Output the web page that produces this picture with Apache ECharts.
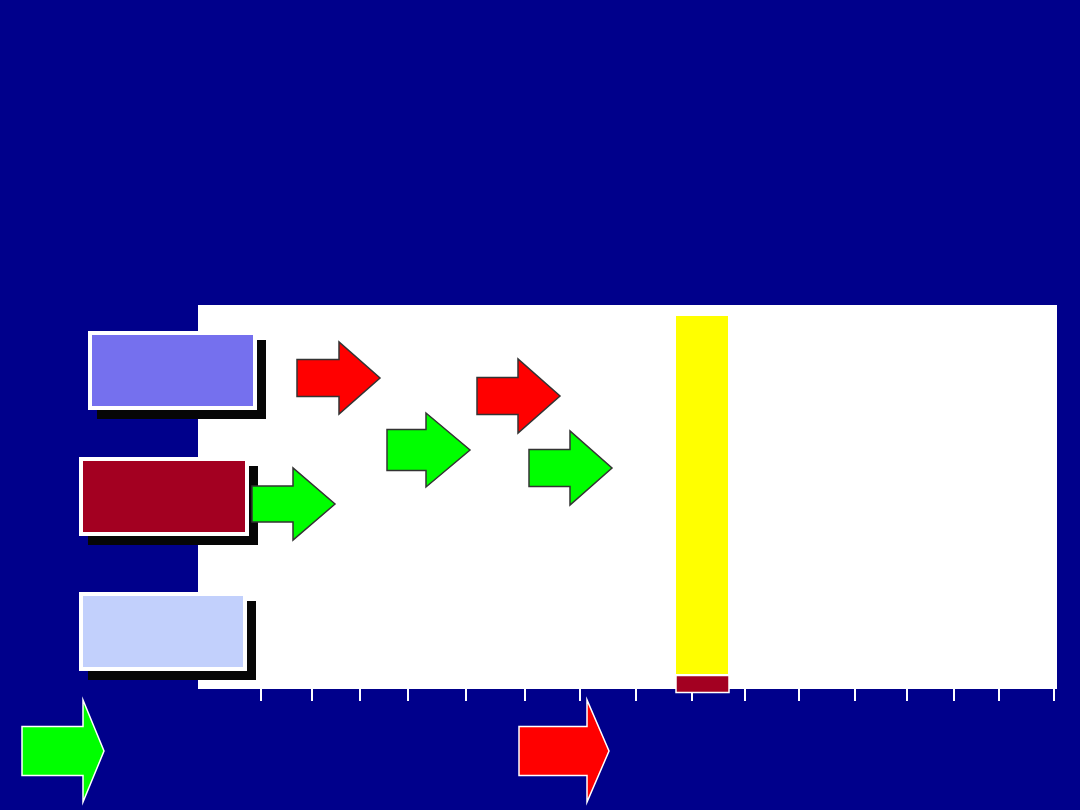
<!DOCTYPE html>
<html>
<head>
<meta charset="utf-8">
<script src="https://cdn.jsdelivr.net/npm/echarts@6/dist/echarts.min.js"></script>
<style>html,body{margin:0;padding:0;background:#00008b;}#c{width:1080px;height:810px;}</style>
</head>
<body>
<div id="c"></div>
<script>
// ---- data (in chart units: x from plot left, y from plot bottom) ----
const tickValues = [63, 114, 162, 210, 268, 327, 382, 438, 494, 547, 601, 657, 709, 756, 801, 856];

const boxLeft   = [-110, -119, -119];
const boxRight  = [59, 51, 49];
const boxTop    = [358, 232, 97];
const boxBottom = [279, 153, 18];
const boxColors = ['#7570ee', '#a30021', '#c2d0fc'];

const barLeft   = [478, 478];
const barRight  = [530, 531];
const barTop    = [373, 13.5];
const barBottom = [15, -3.5];
const barColors = ['#ffff00', '#a30021'];

const arrowTail  = [99, 279, 54, 189, 331, -176, 321];
const arrowHead  = [141, 320, 95, 228, 372, -115, 389];
const arrowTip   = [182, 362, 137, 272, 414, -94, 411];
const arrowY     = [311, 293, 185, 239, 221, -62, -62];
const arrowBody  = [18.5, 18.5, 18, 20.5, 18.5, 24.5, 24.5];
const arrowHeadH = [36, 37, 36, 37, 37, 51, 51];
const arrowColors = ['#ff0000', '#ff0000', '#00ff00', '#00ff00', '#00ff00', '#00ff00', '#ff0000'];
const arrowEdge  = ['#333', '#333', '#333', '#333', '#333', '#ffffff', '#ffffff'];

const chart = echarts.init(document.getElementById('c'), null, {renderer: 'canvas'});

function rectFromCorners(api, x0, y0, x1, y1) {
  const a = api.coord([x0, y0]);
  const b = api.coord([x1, y1]);
  return {x: Math.min(a[0], b[0]), y: Math.min(a[1], b[1]), width: Math.abs(b[0] - a[0]), height: Math.abs(b[1] - a[1])};
}

chart.setOption({
  backgroundColor: '#00008b',
  animation: false,
  grid: {left: 198, right: 23, top: 305, bottom: 121, show: true, backgroundColor: '#ffffff', borderWidth: 0},
  xAxis: {type: 'value', min: 0, max: 859, show: false},
  yAxis: {type: 'value', min: 0, max: 384, show: false},
  series: [
    {
      type: 'custom', clip: false, silent: true,
      data: tickValues.map(v => [v]),
      renderItem: (params, api) => {
        const p = api.coord([api.value(0), 0]);
        return {type: 'line', shape: {x1: p[0], y1: p[1], x2: p[0], y2: p[1] + 12},
                style: {stroke: '#ffffff', lineWidth: 2}};
      }
    },
    {
      type: 'custom', clip: false, silent: true,
      data: boxLeft.map((v, i) => [boxLeft[i], boxTop[i], boxRight[i], boxBottom[i], i]),
      renderItem: (params, api) => {
        const r = rectFromCorners(api, api.value(0), api.value(1), api.value(2), api.value(3));
        const i = api.value(4);
        return {type: 'group', children: [
          {type: 'rect', shape: {x: r.x + 9, y: r.y + 9, width: r.width, height: r.height}, style: {fill: '#060606'}},
          {type: 'rect', shape: {x: r.x + 2, y: r.y + 2, width: r.width - 4, height: r.height - 4},
           style: {fill: boxColors[i], stroke: '#ffffff', lineWidth: 4}}
        ]};
      }
    },
    {
      type: 'custom', clip: false, silent: true,
      data: barLeft.map((v, i) => [barLeft[i], barTop[i], barRight[i], barBottom[i], i]),
      renderItem: (params, api) => {
        const r = rectFromCorners(api, api.value(0), api.value(1), api.value(2), api.value(3));
        const i = api.value(4);
        return {type: 'rect', shape: r,
                style: {fill: barColors[i], stroke: i === 1 ? '#ffffff' : null, lineWidth: i === 1 ? 1.5 : 0}};
      }
    },
    {
      type: 'custom', clip: false, silent: true,
      data: arrowTail.map((v, i) => [arrowTail[i], arrowHead[i], arrowTip[i], arrowY[i], arrowBody[i], arrowHeadH[i], i]),
      renderItem: (params, api) => {
        const tail = api.value(0), head = api.value(1), tip = api.value(2), cy = api.value(3);
        const bh = api.value(4), hh = api.value(5), i = api.value(6);
        const pts = [
          [tail, cy + bh], [head, cy + bh], [head, cy + hh], [tip, cy],
          [head, cy - hh], [head, cy - bh], [tail, cy - bh]
        ].map(p => api.coord(p));
        return {type: 'polygon', shape: {points: pts},
                style: {fill: arrowColors[i], stroke: arrowEdge[i], lineWidth: 1.5}};
      }
    }
  ]
});
</script>
</body>
</html>
